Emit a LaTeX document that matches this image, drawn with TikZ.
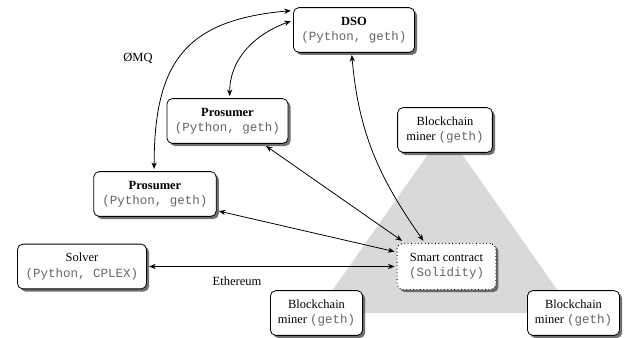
\documentclass[tikz,border=0pt]{standalone}
\usepackage{fontspec}
\setmainfont{Liberation Serif}
\setmonofont{Liberation Mono}
\usetikzlibrary{shadows,arrows.meta,backgrounds}
\newcommand{\cde}[1]{{\ttfamily\color{black!60}#1}}
\tikzset{
  boxnode/.style={draw=black, fill=white, rounded corners=4pt, line width=0.6pt,
    align=center, font=\fontsize{9.5}{11.5}\selectfont, inner xsep=3pt, minimum height=34pt,
    outer sep=2pt,
    drop shadow={shadow xshift=2pt, shadow yshift=-2pt, fill=black!70, opacity=0.8}},
  dotbox/.style={boxnode, dotted, line width=0.8pt},
  link/.style={{Stealth[length=5pt,width=4pt]}-{Stealth[length=5pt,width=4pt]}, line width=0.6pt},
  lbl/.style={font=\fontsize{9.5}{11.5}\selectfont}
}
\begin{document}
\begin{tikzpicture}[x=0.76pt,y=-0.76pt]
\useasboundingbox (0,0) rectangle (628,337);
\node[boxnode, minimum width=72pt] (mtop) at (445,130) {Blockchain\\miner \cde{(geth)}};
\node[boxnode, minimum width=70pt] (mbl) at (316.5,313) {Blockchain\\miner \cde{(geth)}};
\node[boxnode, minimum width=70pt] (mbr) at (573.5,313) {Blockchain\\miner \cde{(geth)}};
\begin{scope}[on background layer]
\fill[black!15] (mtop.center) -- (mbl.center) -- (mbr.center) -- cycle;
\end{scope}
\node[boxnode, minimum width=92pt] (dso) at (354,30) {\textbf{DSO}\\\cde{(Python, geth)}};
\node[boxnode, minimum width=92pt] (p1) at (227.5,121) {\textbf{Prosumer}\\\cde{(Python, geth)}};
\node[boxnode, minimum width=93pt] (p2) at (155,194) {\textbf{Prosumer}\\\cde{(Python, geth)}};
\node[boxnode, minimum width=98pt] (solver) at (82,266.5) {Solver\\\cde{(Python, CPLEX)}};
\node[dotbox, minimum width=75pt, minimum height=35pt] (sc) at (446.5,266.5) {Smart contract\\\cde{(Solidity)}};
% connectors
\draw[link] (p2.92) to[out=90, in=185, looseness=1.3] (dso.163);
\draw[link] (p1.85) to[out=90, in=200] (dso.172);
\draw[link] (dso.265) to[out=-85, in=125] (sc.132);
\draw[link] (p1.-33) -- (sc.150);
\draw[link] (p2.-15) -- (sc.164);
\draw[link] (solver.east) -- (sc.west);
\node[lbl] (zmq) at (138,58) {ØMQ};
\node[lbl] (eth) at (237,281) {Ethereum};
\end{tikzpicture}
\end{document}
